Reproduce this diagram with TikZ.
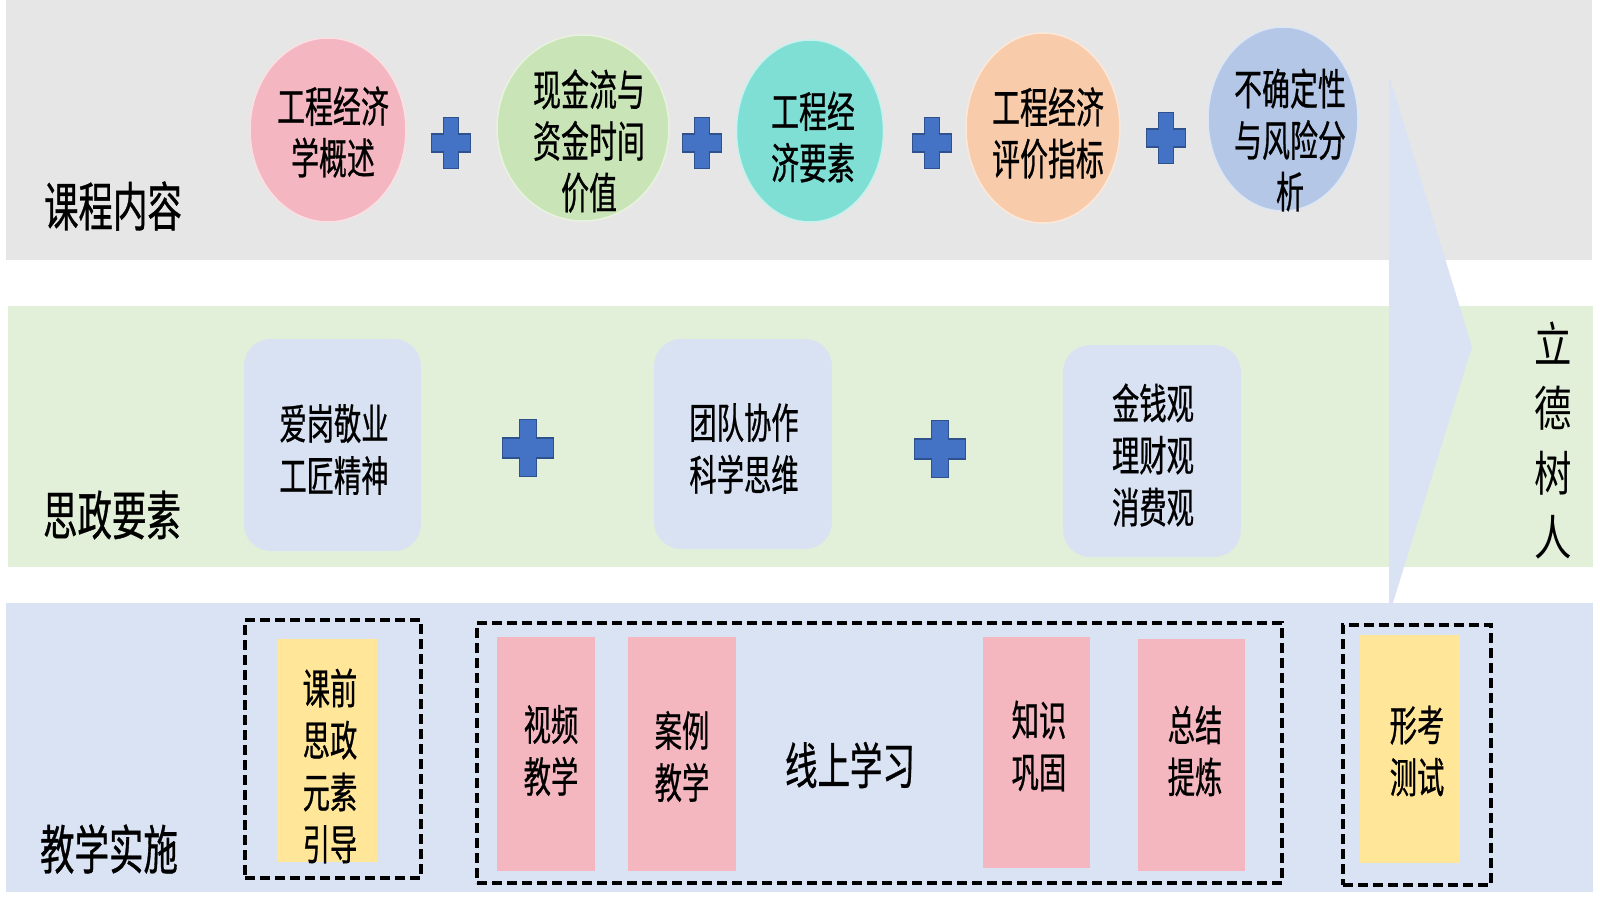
\documentclass[tikz,border=0pt]{standalone}
\usepackage{fontspec}
\usetikzlibrary{shapes.geometric}
\newfontfamily\cjk[FakeStretch=0.65,FakeBold=0.6]{Noto Sans CJK SC}
\newfontfamily\cjkw[FakeStretch=0.78]{Noto Sans CJK SC}
\definecolor{bandgray}{HTML}{E7E6E6}
\definecolor{bandgreen}{HTML}{E2F0D9}
\definecolor{bandblue}{HTML}{DAE3F3}
\definecolor{cpink}{HTML}{F4B7C1}
\definecolor{cgreen}{HTML}{C9E5B7}
\definecolor{cteal}{HTML}{80DFD5}
\definecolor{corange}{HTML}{F8CBAA}
\definecolor{cblue}{HTML}{B4C7E7}
\definecolor{boxblue}{HTML}{D9E2F3}
\definecolor{rpink}{HTML}{F4B7C0}
\definecolor{ryellow}{HTML}{FFE699}
\definecolor{plusfill}{HTML}{4472C4}
\definecolor{plusline}{HTML}{2F528F}
\newcommand{\crossmark}[6]{% x y w h vertical-arm horizontal-arm
  \filldraw[fill=plusfill,draw=plusline,line width=1.2pt]
    ({#1-#5/2},{#2-#4/2}) -- ({#1+#5/2},{#2-#4/2}) -- ({#1+#5/2},{#2-#6/2}) --
    ({#1+#3/2},{#2-#6/2}) -- ({#1+#3/2},{#2+#6/2}) -- ({#1+#5/2},{#2+#6/2}) --
    ({#1+#5/2},{#2+#4/2}) -- ({#1-#5/2},{#2+#4/2}) -- ({#1-#5/2},{#2+#6/2}) --
    ({#1-#3/2},{#2+#6/2}) -- ({#1-#3/2},{#2-#6/2}) -- ({#1-#5/2},{#2-#6/2}) -- cycle;}
\begin{document}
\begin{tikzpicture}[x=1pt,y=-1pt,
  every node/.style={inner sep=0pt,outer sep=0pt},
  lbl/.style={font=\cjk\fontsize{53}{60}\selectfont},
  etxt/.style={font=\cjk\fontsize{43}{51.5}\selectfont,align=center},
  btxt/.style={font=\cjk\fontsize{42}{52}\selectfont,align=center},
  ell/.style={ellipse,fill=#1,draw=#1!45!white,line width=1.5pt},
  rbox/.style={rectangle,rounded corners=27pt,fill=boxblue},
  colbox/.style={rectangle,fill=#1},
  dbox/.style={rectangle,draw=black,line width=3.5pt,dash pattern=on 10pt off 5pt},
]
\useasboundingbox (0,0) rectangle (1600,899);
\fill[white] (0,0) rectangle (1600,899);
% bands
\fill[bandgray] (6,0) rectangle (1592,260);
\fill[bandgreen] (8,306) rectangle (1593,567);
\fill[bandblue] (6,603) rectangle (1593,892);
% big arrow
\fill[bandblue] (1389,75) -- (1472,347) -- (1392,606) -- (1389,606) -- cycle;
% band labels
\node[lbl] (l1) at (113,206) {课程内容};
\node[lbl] (l2) at (112,515) {思政要素};
\node[lbl] (l3) at (109,849) {教学实施};
% course content ellipses
\node[ell=cpink,minimum width=156pt,minimum height=184pt] (c1) at (328,130) {};
\node[ell=cgreen,minimum width=172pt,minimum height=186pt] (c2) at (583,128) {};
\node[ell=cteal,minimum width=147pt,minimum height=182pt] (c3) at (810,131) {};
\node[ell=corange,minimum width=154pt,minimum height=190pt] (c4) at (1043,128) {};
\node[ell=cblue,minimum width=150pt,minimum height=184pt] (c5) at (1283,119) {};
\node[etxt] (t1) at (333,132) {工程经济\\学概述};
\node[etxt] (t2) at (589,141) {现金流与\\资金时间\\价值};
\node[etxt] (t3) at (813,137) {工程经\\济要素};
\node[etxt] (t4) at (1048,133) {工程经济\\评价指标};
\node[etxt] (t5) at (1290,140) {不确定性\\与风险分\\析};
\crossmark{451}{143}{39}{51}{15}{18}
\crossmark{702}{143}{39}{51}{15}{18}
\crossmark{932}{143}{39}{51}{15}{18}
\crossmark{1166}{138}{39}{51}{15}{18}
% ideological elements
\node[rbox,minimum width=177pt,minimum height=212pt] (b1) at (332.5,445) {};
\node[rbox,minimum width=178pt,minimum height=210pt] (b2) at (743,444) {};
\node[rbox,minimum width=178pt,minimum height=212pt] (b3) at (1152,451) {};
\node[btxt] (s1) at (334,449.5) {爱岗敬业\\工匠精神};
\node[btxt] (s2) at (744,448.5) {团队协作\\科学思维};
\node[btxt] (s3) at (1153,455) {金钱观\\理财观\\消费观};
\crossmark{528}{448}{51}{57}{17}{20}
\crossmark{940}{449}{51}{57}{17}{20}
% goal text
\node[font=\cjkw\fontsize{48}{64.5}\selectfont,align=center] (goal) at (1553,440.5) {立\\德\\树\\人};
% teaching implementation
\node[dbox,minimum width=176pt,minimum height=258pt] (d1) at (333,749) {};
\node[dbox,minimum width=805pt,minimum height=260pt] (d2) at (879.5,753) {};
\node[dbox,minimum width=148pt,minimum height=260pt] (d3) at (1417,755) {};
\node[colbox=ryellow,minimum width=100pt,minimum height=223pt] (y1) at (327,750.5) {};
\node[colbox=rpink,minimum width=98pt,minimum height=234pt] (p1) at (546,754) {};
\node[colbox=rpink,minimum width=108pt,minimum height=234pt] (p2) at (682,754) {};
\node[colbox=rpink,minimum width=107pt,minimum height=231pt] (p3) at (1036.5,752.5) {};
\node[colbox=rpink,minimum width=107pt,minimum height=232pt] (p4) at (1191.5,755) {};
\node[colbox=ryellow,minimum width=100pt,minimum height=228pt] (y2) at (1410,749) {};
\node[btxt] (u1) at (330,766) {课前\\思政\\元素\\引导};
\node[btxt] (u2) at (551,750.5) {视频\\教学};
\node[btxt] (u3) at (682,756.5) {案例\\教学};
\node[font=\cjk\fontsize{50}{60}\selectfont] (online) at (850,765) {线上学习};
\node[btxt] (u4) at (1039,746) {知识\\巩固};
\node[btxt] (u5) at (1195,751) {总结\\提炼};
\node[btxt] (u6) at (1417,751) {形考\\测试};
\end{tikzpicture}
\end{document}
